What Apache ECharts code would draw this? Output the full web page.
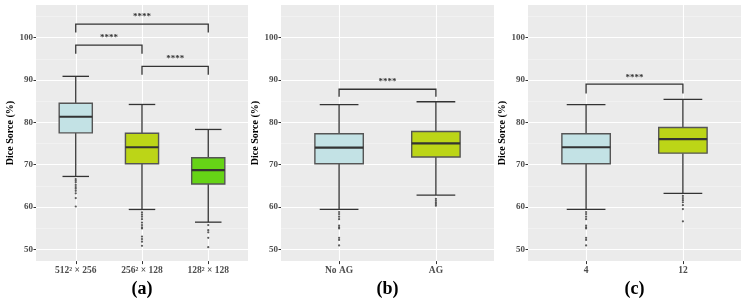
<!DOCTYPE html>
<html><head><meta charset="utf-8">
<script src="https://cdn.jsdelivr.net/npm/echarts@6/dist/echarts.min.js"></script>
<style>html,body{margin:0;padding:0;background:#fff}#c{width:747px;height:303px}</style>
</head><body><div id="c"></div>
<script>
// ---------- data ----------
const yTicks = [50, 60, 70, 80, 90, 100];
const yMinor = [55, 65, 75, 85, 95, 105];
const yTitle = 'Dice Sorce (%)';
const panelLabels = ['(a)', '(b)', '(c)'];

const catA = ['512² × 256', '256² × 128', '128² × 128'];
// [lower whisker, Q1, median, Q3, upper whisker]
const statsA = [
  [67.2, 77.5, 81.3, 84.5, 90.85],
  [59.4, 70.2, 74.1, 77.4, 84.2],
  [56.4, 65.4, 68.7, 71.6, 78.3]
];
const outA = [
  [66.6, 66.2, 65.8, 65.2, 64.7, 64.3, 63.8, 63.2, 62.1, 60.1],
  [58.7, 58.2, 57.7, 57.1, 56.3, 55.7, 55.2, 54.9, 53.0, 52.4, 51.8, 50.8],
  [55.7, 54.5, 54.0, 52.7, 50.5]
];
// [x1, x2, line y, tick end y, stars y]
const sigA = [
  [1, 3, 103.2, 101.2, 105.3],
  [1, 2, 98.2, 96.2, 100.4],
  [2, 3, 93.2, 91.2, 95.3]
];

const catB = ['No AG', 'AG'];
const statsB = [
  [59.4, 70.2, 74.0, 77.3, 84.15],
  [62.8, 71.8, 75.0, 77.8, 84.85]
];
const outB = [
  [58.8, 58.3, 57.7, 57.1, 55.6, 55.2, 54.9, 52.7, 52.2, 50.9],
  [61.9, 61.5, 61.1, 60.7, 60.3]
];
const sigB = [[1, 2, 87.8, 86.0, 89.9]];

const catC = ['4', '12'];
const statsC = [
  [59.4, 70.2, 74.1, 77.3, 84.15],
  [63.2, 72.7, 76.0, 78.75, 85.4]
];
const outC = [
  [58.8, 58.3, 57.7, 57.1, 55.6, 55.2, 54.9, 52.7, 52.2, 50.9],
  [62.6, 62.1, 61.6, 61.1, 60.4, 59.5, 56.6]
];
const sigC = [[1, 2, 89.0, 86.8, 91.0]];

// ---------- styles ----------
const fillsA = ['#c3e2e5', '#bcd517', '#66d416'];
const fillsBC = ['#c3e2e5', '#bcd517'];
const FONT = '"Liberation Serif", "Times New Roman", serif';
const Y_MIN = 47.2, Y_MAX = 107.7;

const panels = [
  {cats: catA, stats: statsA, outs: outA, sig: sigA, fills: fillsA, left: 36, width: 212},
  {cats: catB, stats: statsB, outs: outB, sig: sigB, fills: fillsBC, left: 281, width: 213},
  {cats: catC, stats: statsC, outs: outC, sig: sigC, fills: fillsBC, left: 528, width: 213}
];

const grid = [], xAxis = [], yAxis = [], series = [];

function boxRender(fills) {
  return function (params, api) {
    const x = api.value(0), lo = api.value(1), q1 = api.value(2), md = api.value(3), q3 = api.value(4), hi = api.value(5);
    const tl = api.coord([x - 0.25, q3]), br = api.coord([x + 0.25, q1]);
    const cx = api.coord([x, md])[0];
    const yHi = api.coord([x, hi])[1], yLo = api.coord([x, lo])[1];
    const cl = api.coord([x - 0.2, hi])[0], cr = api.coord([x + 0.2, hi])[0];
    const ymd = api.coord([x, md])[1];
    const ln = {stroke: '#333', lineWidth: 1.3};
    return {
      type: 'group',
      children: [
        {type: 'line', shape: {x1: cx, y1: yHi, x2: cx, y2: tl[1]}, style: ln},
        {type: 'line', shape: {x1: cx, y1: br[1], x2: cx, y2: yLo}, style: ln},
        {type: 'line', shape: {x1: cl, y1: yHi, x2: cr, y2: yHi}, style: ln},
        {type: 'line', shape: {x1: cl, y1: yLo, x2: cr, y2: yLo}, style: ln},
        {type: 'rect', shape: {x: tl[0], y: tl[1], width: br[0] - tl[0], height: br[1] - tl[1]},
          style: {fill: fills[params.dataIndex], stroke: '#555', lineWidth: 1.4}},
        {type: 'line', shape: {x1: tl[0], y1: ymd, x2: br[0], y2: ymd}, style: {stroke: '#333', lineWidth: 2.2}}
      ]
    };
  };
}

function sigRender(params, api) {
  const x1 = api.value(0), x2 = api.value(1), yl = api.value(2), yt = api.value(3), ys = api.value(4);
  const a = api.coord([x1, yl]), b = api.coord([x2, yl]);
  const at = api.coord([x1, yt]), bt = api.coord([x2, yt]);
  const s = api.coord([(x1 + x2) / 2, ys]);
  return {
    type: 'group',
    children: [
      {type: 'polyline', shape: {points: [at, a, b, bt]}, style: {stroke: '#333', lineWidth: 1.3, fill: null}},
      {type: 'text', style: {text: '****', x: s[0], y: s[1] + 1.5, align: 'center', verticalAlign: 'middle',
        fontSize: 9, fontFamily: FONT, fontWeight: 'bold', fill: '#333'}}
    ]
  };
}

panels.forEach((p, i) => {
  grid.push({left: p.left, top: 5, width: p.width, height: 258, show: true, backgroundColor: '#ebebeb', borderWidth: 0});
  const ticksX = p.cats.map((c, k) => k + 1);
  xAxis.push({
    type: 'value', gridIndex: i, min: 0.4, max: p.cats.length + 0.6,
    axisLine: {show: false},
    axisTick: {show: true, customValues: ticksX, length: 3, lineStyle: {color: '#333', width: 1}},
    axisLabel: {show: true, customValues: ticksX, margin: 4, fontFamily: FONT, fontSize: 9.5, fontWeight: 'bold', color: '#4d4d4d',
      formatter: v => p.cats[Math.round(v) - 1]},
    splitLine: {show: true, lineStyle: {color: '#ffffff', width: 1.1}},
    name: panelLabels[i], nameLocation: 'middle', nameGap: 14,
    nameTextStyle: {fontFamily: FONT, fontSize: 18, fontWeight: 'bold', color: '#000', verticalAlign: 'top'}
  });
  yAxis.push({
    type: 'value', gridIndex: i, min: Y_MIN, max: Y_MAX,
    axisLine: {show: false},
    axisTick: {show: true, customValues: yTicks, length: 2.5, lineStyle: {color: '#333', width: 1}},
    axisLabel: {show: true, customValues: yTicks, margin: 3, fontFamily: FONT, fontSize: 9, fontWeight: 'bold', color: '#4d4d4d'},
    splitLine: {show: true, lineStyle: {color: '#ffffff', width: 1.1}},
    name: yTitle, nameLocation: 'middle', nameRotate: 90, nameGap: 15,
    nameTextStyle: {fontFamily: FONT, fontSize: 10, fontWeight: 'bold', color: '#000'}
  });
  yAxis.push({
    type: 'value', gridIndex: i, min: Y_MIN, max: Y_MAX, position: 'left',
    axisLine: {show: false},
    axisTick: {show: false, customValues: yMinor},
    axisLabel: {show: false, customValues: yMinor},
    splitLine: {show: true, lineStyle: {color: '#f5f5f5', width: 0.6}}
  });
  series.push({
    type: 'custom', xAxisIndex: i, yAxisIndex: 2 * i, renderItem: boxRender(p.fills),
    encode: {x: 0, y: [1, 2, 3, 4, 5]}, clip: false, z: 2,
    data: p.stats.map((s, k) => [k + 1].concat(s))
  });
  series.push({
    type: 'scatter', xAxisIndex: i, yAxisIndex: 2 * i, symbolSize: 2.2, z: 3,
    itemStyle: {color: '#333'},
    data: p.outs.flatMap((arr, k) => arr.map(v => [k + 1, v]))
  });
  series.push({
    type: 'custom', xAxisIndex: i, yAxisIndex: 2 * i, renderItem: sigRender, clip: false, z: 4,
    encode: {x: [0, 1], y: [2, 3, 4]},
    data: p.sig
  });
});

const chart = echarts.init(document.getElementById('c'), null, {renderer: 'canvas'});
chart.setOption({animation: false, backgroundColor: '#ffffff', grid, xAxis, yAxis, series});
</script>
</body></html>
